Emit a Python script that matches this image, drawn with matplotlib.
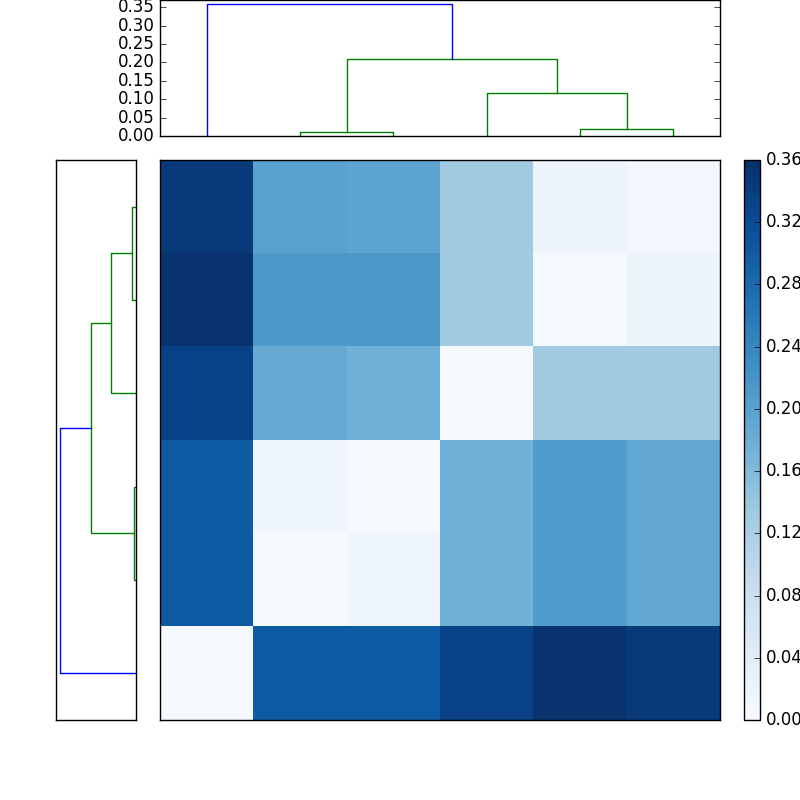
import matplotlib
matplotlib.use("Agg")
import matplotlib.pyplot as plt
import numpy as np

plt.style.use("classic")

# distance matrix shown in the heatmap (rows top to bottom)
matrix = [
    [0.345, 0.20, 0.195, 0.13, 0.02, 0.01],
    [0.355, 0.215, 0.215, 0.13, 0.005, 0.02],
    [0.335, 0.185, 0.175, 0.005, 0.13, 0.13],
    [0.30, 0.015, 0.005, 0.175, 0.21, 0.19],
    [0.30, 0.005, 0.015, 0.175, 0.21, 0.19],
    [0.005, 0.30, 0.30, 0.335, 0.355, 0.345],
]

# top dendrogram links (scipy-style icoord / dcoord)
top_icoord = [[15, 15, 25, 25], [45, 45, 55, 55], [35, 35, 50, 50],
              [20, 20, 42.5, 42.5], [5, 5, 31.25, 31.25]]
top_dcoord = [[0, 0.01, 0.01, 0], [0, 0.018, 0.018, 0], [0, 0.117, 0.117, 0.018],
              [0.01, 0.21, 0.21, 0.117], [0, 0.36, 0.36, 0.21]]
top_colors = ["g", "g", "g", "g", "b"]

# left dendrogram links
left_icoord = [[45, 45, 55, 55], [35, 35, 50, 50], [15, 15, 25, 25],
               [20, 20, 42.5, 42.5], [5, 5, 31.25, 31.25]]
left_dcoord = [[0, 0.0185, 0.0185, 0], [0, 0.116, 0.116, 0.0185], [0, 0.009, 0.009, 0],
               [0.009, 0.208, 0.208, 0.116], [0, 0.35, 0.35, 0.208]]
left_colors = ["g", "g", "g", "g", "b"]

fig = plt.figure(figsize=(8, 8), dpi=100, facecolor="white")

ax_top = fig.add_axes([0.2, 0.83, 0.7, 0.17])
for xs, ys, c in zip(top_icoord, top_dcoord, top_colors):
    ax_top.plot(xs, ys, color=c)
ax_top.set_xlim(0, 60)
ax_top.set_ylim(0, 0.37)
ax_top.set_yticks(np.arange(0, 0.36, 0.05))
ax_top.set_xticks([])

ax_left = fig.add_axes([0.07, 0.1, 0.1, 0.7])
for ys, xs, c in zip(left_icoord, left_dcoord, left_colors):
    ax_left.plot(xs, ys, color=c)
ax_left.set_ylim(0, 60)
ax_left.set_xlim(0.37, 0)
ax_left.set_xticks([])
ax_left.set_yticks([])

ax_heat = fig.add_axes([0.2, 0.1, 0.7, 0.7])
im = ax_heat.imshow(np.array(matrix), cmap="Blues", vmin=0, vmax=0.36,
                    aspect="auto", interpolation="nearest")
ax_heat.set_xticks([])
ax_heat.set_yticks([])

ax_cb = fig.add_axes([0.93, 0.1, 0.02, 0.7])
cb = fig.colorbar(im, cax=ax_cb, ticks=np.arange(0, 0.37, 0.04))
cb.ax.set_yticklabels([f"{t:.2f}" for t in np.arange(0, 0.37, 0.04)])

fig.savefig("out.png", dpi=100, facecolor="white")
